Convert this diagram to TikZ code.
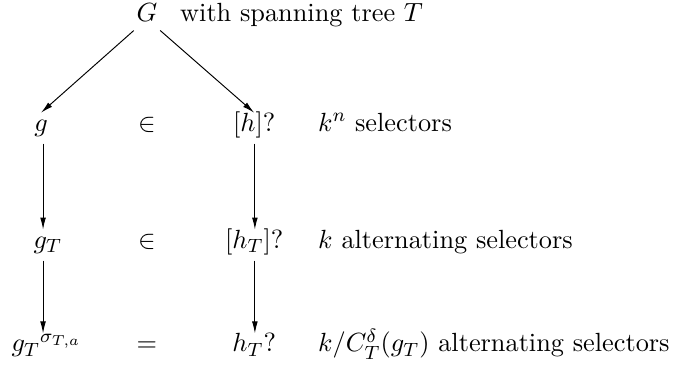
\documentclass[tikz,border=0pt,11pt]{standalone}
\usepackage{tikz}
\usetikzlibrary{arrows.meta, positioning, calc}
\usepackage{amsmath, amssymb}

\begin{document}
\begin{tikzpicture}[
  entry/.style={inner xsep=1pt, inner ysep=1.5pt, text height=6pt, text depth=3.5pt, anchor=base},
  note/.style={inner sep=0pt, anchor=base west},
  maparrow/.style={-{Latex[length=5pt, width=2.4pt]}, line width=0.4pt}
]
  \useasboundingbox (0,0) rectangle (9.98,-5.50);
  % columns of the arrows
  \coordinate (left) at (0.63,0);
  \coordinate (right) at (3.73,0);
  % the graph on top
  \node[entry] (G) at (2.15,-0.32) {$G$};
  \node[note] (Gtext) at (2.63,-0.32) {with spanning tree $T$};
  % row of selectors
  \node[entry] (g) at (0.60,-1.92) {$g$};
  \node[entry] (in1) at (2.15,-1.92) {$\in$};
  \node[entry] (h) at (3.72,-1.92) {$[h]?$};
  \node[note] (sel1) at (4.65,-1.92) {$k^n$ selectors};
  % row of alternating selectors
  \node[entry] (gT) at (0.70,-3.63) {$g_T$};
  \node[entry] (in2) at (2.15,-3.63) {$\in$};
  \node[entry] (hT) at (3.72,-3.63) {$[h_T]?$};
  \node[note] (sel2) at (4.65,-3.63) {$k$ alternating selectors};
  % last row
  \node[entry] (gs) at (0.68,-5.15) {${g_T}^{\sigma_{T,a}}$};
  \node[entry] (eq) at (2.15,-5.15) {$=$};
  \node[entry] (hq) at (3.72,-5.15) {$h_T?$};
  \node[note] (sel3) at (4.65,-5.15) {$k/C_T^{\delta}(g_T)$ alternating selectors};

  \draw[maparrow] (G) -- (g.north);
  \draw[maparrow] (G) -- (h.north);
  \draw[maparrow] (g.south -| left) -- (gT.north -| left);
  \draw[maparrow] (h.south -| right) -- (hT.north -| right);
  \draw[maparrow] (gT.south -| left) -- (gs.north -| left);
  \draw[maparrow] (hT.south -| right) -- (hq.north -| right);
\end{tikzpicture}
\end{document}
